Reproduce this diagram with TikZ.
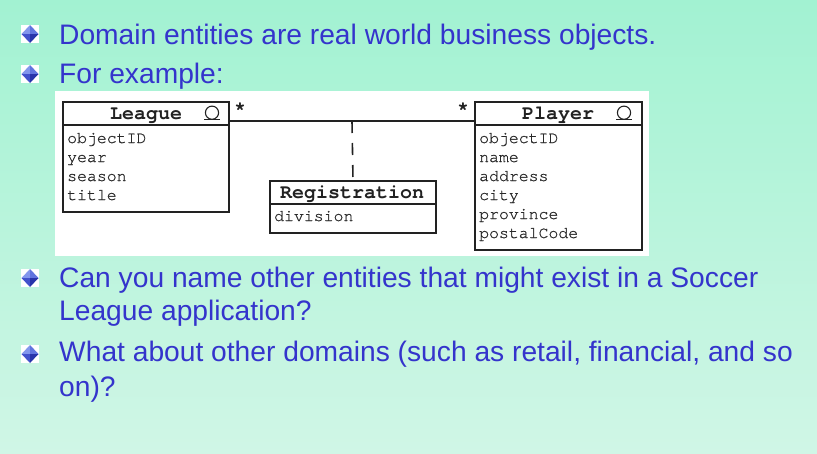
\documentclass[tikz,border=0pt]{standalone}
\usepackage{fontspec}
\setmainfont{Liberation Sans}
\newfontfamily\umlfont{TeX Gyre Cursor}
\newfontfamily\umlattrfont[FakeBold=0.8]{TeX Gyre Cursor}
\usetikzlibrary{calc}

\definecolor{slidetop}{RGB}{162,242,210}
\definecolor{slidebot}{RGB}{208,246,230}
\definecolor{slideblue}{RGB}{52,52,204}
\definecolor{umlink}{RGB}{34,34,34}
\definecolor{umltext}{RGB}{40,40,40}
\definecolor{gemA}{RGB}{130,150,236}
\definecolor{gemB}{RGB}{96,116,222}
\definecolor{gemC}{RGB}{66,82,204}
\definecolor{gemD}{RGB}{40,52,170}

\tikzset{
  bodytext/.style={anchor=base west, inner sep=0pt, text=slideblue,
    font=\fontsize{28.2}{34}\selectfont},
  umlbox/.style={draw=umlink, line width=2pt, fill=white, inner sep=0pt, anchor=north west},
  umlhead/.style={anchor=base, inner sep=0pt, text=umlink, font=\umlfont\bfseries\fontsize{20}{22}\selectfont},
  umlattr/.style={anchor=base west, inner sep=0pt, text=umltext, font=\umlattrfont\fontsize{16.5}{19}\selectfont},
  umlmult/.style={inner sep=0pt, text=umlink, font=\umlfont\bfseries\fontsize{19}{19}\selectfont},
  umlline/.style={draw=umlink, line width=1.6pt},
  bulletmark/.pic={
    \fill[white] (-9,-9) rectangle (9,9);
    \fill[gemA] (0,-9) -- (-8.5,0) -- (0,0) -- cycle;
    \fill[gemB] (0,-9) -- (8.5,0) -- (0,0) -- cycle;
    \fill[gemC] (0,9) -- (-8.5,0) -- (0,0) -- cycle;
    \fill[gemD] (0,9) -- (8.5,0) -- (0,0) -- cycle;
  },
  entityicon/.pic={
    \draw[umlink, line width=1.1pt] (0,-6.8) circle (6.6);
    \draw[umlink, line width=1.1pt] (-8,0) -- (8,0);
  }
}

\begin{document}
\begin{tikzpicture}[x=1pt, y=-1pt]
  \useasboundingbox (0,0) rectangle (817,453);
  \shade[top color=slidetop, bottom color=slidebot] (0,0) rectangle (817,453);

  % bullets
  \pic at (30,34) {bulletmark};
  \pic at (30,74) {bulletmark};
  \pic at (30,278) {bulletmark};
  \pic at (30,354) {bulletmark};

  % slide text
  \node[bodytext] (l1) at (59,44) {Domain entities are real world business objects.};
  \node[bodytext] (l2) at (59,83) {For example:};
  \node[bodytext] (l3) at (59,287) {Can you name other entities that might exist in a Soccer};
  \node[bodytext] (l4) at (59,320) {League application?};
  \node[bodytext] (l5) at (59,361) {What about other domains (such as retail, financial, and so};
  \node[bodytext] (l6) at (59,396) {on)?};

  % white panel holding the class diagram
  \fill[white] (55,91) rectangle (649,256);

  % League class
  \node[umlbox, minimum width=166pt, minimum height=110pt] (league) at (62,101) {};
  \draw[umlink, line width=2pt] (62,125) -- (228,125);
  \node[umlhead] (leagueT) at (146,119) {League};
  \pic at (212,119.5) {entityicon};
  \node[umlattr] (la1) at (67,143) {objectID};
  \node[umlattr] (la2) at (67,162) {year};
  \node[umlattr] (la3) at (67,181) {season};
  \node[umlattr] (la4) at (67,200) {title};

  % Player class
  \node[umlbox, minimum width=167pt, minimum height=148pt] (player) at (474,101) {};
  \draw[umlink, line width=2pt] (474,125) -- (641,125);
  \node[umlhead] (playerT) at (558,119) {Player};
  \pic at (624,119.5) {entityicon};
  \node[umlattr] (pa1) at (479,143) {objectID};
  \node[umlattr] (pa2) at (479,162) {name};
  \node[umlattr] (pa3) at (479,181) {address};
  \node[umlattr] (pa4) at (479,200) {city};
  \node[umlattr] (pa5) at (479,219) {province};
  \node[umlattr] (pa6) at (479,238) {postalCode};

  % Registration association class
  \node[umlbox, minimum width=166pt, minimum height=52pt] (reg) at (269,180) {};
  \draw[umlink, line width=2pt] (269,204) -- (435,204);
  \node[umlhead] (regT) at (352,198) {Registration};
  \node[umlattr] (ra1) at (274,221) {division};

  % association League -- Player, with its class attached by a dashed line
  \coordinate (assoc) at (352,121);
  \draw[umlline] (league.east |- assoc) -- (player.west |- assoc);
  \draw[umlline, dash pattern=on 12pt off 10pt] (assoc) -- (reg.north);
  \node[umlmult] (m1) at (240,109) {*};
  \node[umlmult] (m2) at (463,109) {*};
\end{tikzpicture}
\end{document}
